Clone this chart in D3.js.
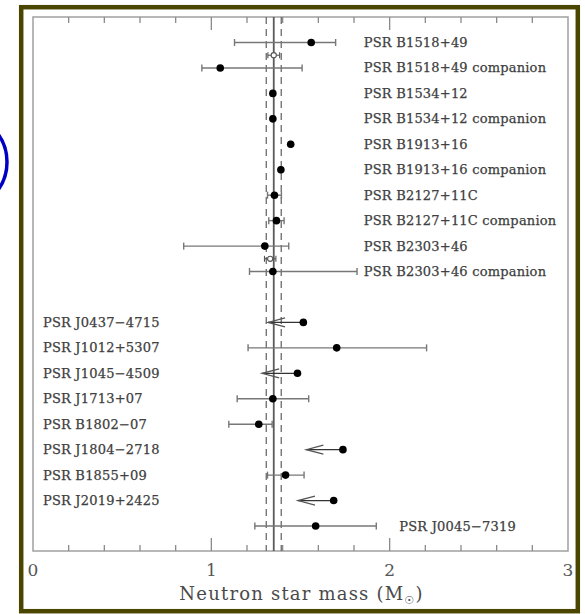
<!DOCTYPE html>
<html>
<head>
<meta charset="utf-8">
<script src="https://cdn.jsdelivr.net/npm/d3@7"></script>
<style>
  body { margin: 0; background: #fff; }
  text { font-family: "DejaVu Serif", serif; }
</style>
</head>
<body>
<div id="chart"></div>
<script>
// pulsars, van boven naar beneden (rij 10 is leeg)
const names = [
  "PSR B1518+49", "PSR B1518+49 companion", "PSR B1534+12", "PSR B1534+12 companion",
  "PSR B1913+16", "PSR B1913+16 companion", "PSR B2127+11C", "PSR B2127+11C companion",
  "PSR B2303+46", "PSR B2303+46 companion",
  "PSR J0437\u22124715", "PSR J1012+5307", "PSR J1045\u22124509", "PSR J1713+07",
  "PSR B1802\u221207", "PSR J1804\u22122718", "PSR B1855+09", "PSR J2019+2425", "PSR J0045\u22127319"
];
const rows = [0, 1, 2, 3, 4, 5, 6, 7, 8, 9, 11, 12, 13, 14, 15, 16, 17, 18, 19];
const mass = [1.56, 1.05, 1.345, 1.345, 1.445, 1.39, 1.354, 1.365, 1.30, 1.345,
  1.516, 1.703, 1.483, 1.345, 1.266, 1.738, 1.416, 1.686, 1.585];
const lower = [1.13, 0.947, 1.336, 1.336, 1.441, 1.386, 1.315, 1.322, 0.845, 1.214,
  1.318, 1.206, 1.285, 1.145, 1.098, 1.533, 1.315, 1.486, 1.244];
const upper = [1.697, 1.509, 1.354, 1.354, 1.449, 1.394, 1.393, 1.408, 1.434, 1.817,
  null, 2.207, null, 1.546, 1.341, null, 1.520, null, 1.925];
// bovengrens = pijl naar links
const isLimit = [false, false, false, false, false, false, false, false, false, false,
  true, false, true, false, false, true, false, true, false];

// open punten (totale massa / 2)
const avgRows = [0.5, 8.5];
const avgMass = [1.35, 1.33];
const avgErr = [0.033, 0.032];

// gemiddelde en spreiding
const meanMass = 1.35;
const sigmaMass = 0.042;
const xTicks = [0, 1, 2, 3];

const width = 585, height = 614;
const plotLeft = 33, plotRight = 568, plotTop = 17, plotBottom = 551;

const svg = d3.select("#chart").append("svg")
  .attr("width", width)
  .attr("height", height);

const x = d3.scaleLinear().domain([0, 3]).range([plotLeft, plotRight]);
const y = d3.scaleLinear().domain([0, 19]).range([42.5, 526]);

// frame
svg.append("rect")
  .attr("x", 21.2).attr("y", 7.2)
  .attr("width", 556.6).attr("height", 604)
  .attr("fill", "#fff")
  .attr("stroke", "#4a4600")
  .attr("stroke-width", 4.5);

// blauwe cirkel links (stukje zichtbaar)
svg.append("circle")
  .attr("cx", -41).attr("cy", 162).attr("r", 48)
  .attr("fill", "none")
  .attr("stroke", "#0000c4")
  .attr("stroke-width", 3.5);

// plot box
svg.append("rect")
  .attr("x", plotLeft).attr("y", plotTop)
  .attr("width", plotRight - plotLeft).attr("height", plotBottom - plotTop)
  .attr("fill", "none")
  .attr("stroke", "#a0a0a0")
  .attr("stroke-width", 1.5);

// ticks boven en onder
const minor = d3.range(0, 3.001, 0.2).filter(v => Math.abs(v - Math.round(v)) > 1e-6);
const major = [1, 2];
const tickG = svg.append("g").attr("stroke", "#8a8a8a").attr("stroke-width", 1.3);
[[minor, 6], [major, 13]].forEach(([vals, len]) => {
  tickG.selectAll(null).data(vals).enter().append("line")
    .attr("x1", d => x(d)).attr("x2", d => x(d))
    .attr("y1", plotTop).attr("y2", plotTop + len);
  tickG.selectAll(null).data(vals).enter().append("line")
    .attr("x1", d => x(d)).attr("x2", d => x(d))
    .attr("y1", plotBottom).attr("y2", plotBottom - len);
});

// tick labels
svg.selectAll(".tl").data(xTicks).enter().append("text")
  .attr("class", "tl")
  .attr("x", d => x(d)).attr("y", 576)
  .attr("text-anchor", "middle")
  .attr("font-size", 17)
  .attr("fill", "#555")
  .text(d => d);

// as titel
const title = svg.append("text")
  .attr("x", (plotLeft + plotRight) / 2 + 1).attr("y", 600)
  .attr("text-anchor", "middle")
  .attr("font-size", 18)
  .attr("letter-spacing", 1.2)
  .attr("fill", "#4a4a4a")
  .text("Neutron star mass (M");
title.append("tspan")
  .attr("font-size", 11).attr("dy", 4)
  .attr("font-family", "DejaVu Sans")
  .text("\u2609");
title.append("tspan").attr("dy", -4).text(")");

// verticale lijnen: gemiddelde en +/- sigma
svg.append("line")
  .attr("x1", x(meanMass)).attr("x2", x(meanMass))
  .attr("y1", plotTop).attr("y2", plotBottom)
  .attr("stroke", "#5a5a5a").attr("stroke-width", 1.8);
svg.selectAll(".sig").data([meanMass - sigmaMass, meanMass + sigmaMass]).enter().append("line")
  .attr("class", "sig")
  .attr("x1", d => x(d)).attr("x2", d => x(d))
  .attr("y1", plotTop).attr("y2", plotBottom)
  .attr("stroke", "#6a6a6a").attr("stroke-width", 1.3)
  .attr("stroke-dasharray", "7,5");

const data = names.map((n, i) => ({
  name: n, row: rows[i], m: mass[i], lo: lower[i], hi: upper[i], limit: isLimit[i]
}));

// foutbalken
const bars = data.filter(d => !d.limit);
const eb = svg.append("g").attr("stroke", "#777").attr("stroke-width", 1.4);
eb.selectAll(null).data(bars).enter().append("line")
  .attr("x1", d => x(d.lo)).attr("x2", d => x(d.hi))
  .attr("y1", d => y(d.row)).attr("y2", d => y(d.row));
eb.selectAll(null).data(bars.flatMap(d => [{ v: d.lo, row: d.row }, { v: d.hi, row: d.row }]))
  .enter().append("line")
  .attr("x1", d => x(d.v)).attr("x2", d => x(d.v))
  .attr("y1", d => y(d.row) - 3.5).attr("y2", d => y(d.row) + 3.5);

// pijlen voor bovengrenzen
const lim = data.filter(d => d.limit);
const ar = svg.append("g").attr("stroke", "#333").attr("stroke-width", 1.3).attr("fill", "none");
ar.selectAll(null).data(lim).enter().append("line")
  .attr("x1", d => x(d.lo)).attr("x2", d => x(d.m))
  .attr("y1", d => y(d.row)).attr("y2", d => y(d.row));
ar.selectAll(null).data(lim).enter().append("path")
  .attr("d", d => {
    const tx = x(d.lo), ty = y(d.row);
    return `M${tx + 17},${ty - 4.5}L${tx},${ty}L${tx + 17},${ty + 4.5}`;
  })
  .attr("stroke", "#555");

// open punten
const av = avgRows.map((r, i) => ({ row: r, m: avgMass[i], e: avgErr[i] }));
const ag = svg.append("g").attr("stroke", "#555").attr("stroke-width", 1.1).attr("fill", "none");
ag.selectAll(null).data(av).enter().append("line")
  .attr("x1", d => x(d.m - d.e)).attr("x2", d => x(d.m + d.e))
  .attr("y1", d => y(d.row)).attr("y2", d => y(d.row));
ag.selectAll(null).data(av.flatMap(d => [{ v: d.m - d.e, row: d.row }, { v: d.m + d.e, row: d.row }]))
  .enter().append("line")
  .attr("x1", d => x(d.v)).attr("x2", d => x(d.v))
  .attr("y1", d => y(d.row) - 3).attr("y2", d => y(d.row) + 3);
ag.selectAll(null).data(av).enter().append("circle")
  .attr("cx", d => x(d.m)).attr("cy", d => y(d.row)).attr("r", 2.6)
  .attr("fill", "#fff");

// punten
svg.selectAll(".pt").data(data).enter().append("circle")
  .attr("class", "pt")
  .attr("cx", d => x(d.m)).attr("cy", d => y(d.row))
  .attr("r", 3.8)
  .attr("fill", "#000");

// labels: bovenste groep rechts, onderste groep links, laatste naast de foutbalk
function labelX(d) {
  if (d.row < 10) return x(1.855);
  if (d.row === 19) return x(d.hi) + 23;
  return x(0) + 10;
}
svg.selectAll(".lab").data(data).enter().append("text")
  .attr("class", "lab")
  .attr("x", labelX)
  .attr("y", d => y(d.row))
  .attr("dy", "0.35em")
  .attr("font-size", 13)
  .attr("letter-spacing", 0.2)
  .attr("fill", "#404040")
  .attr("stroke", "#404040")
  .attr("stroke-width", 0.25)
  .text(d => d.name);
</script>
</body>
</html>
